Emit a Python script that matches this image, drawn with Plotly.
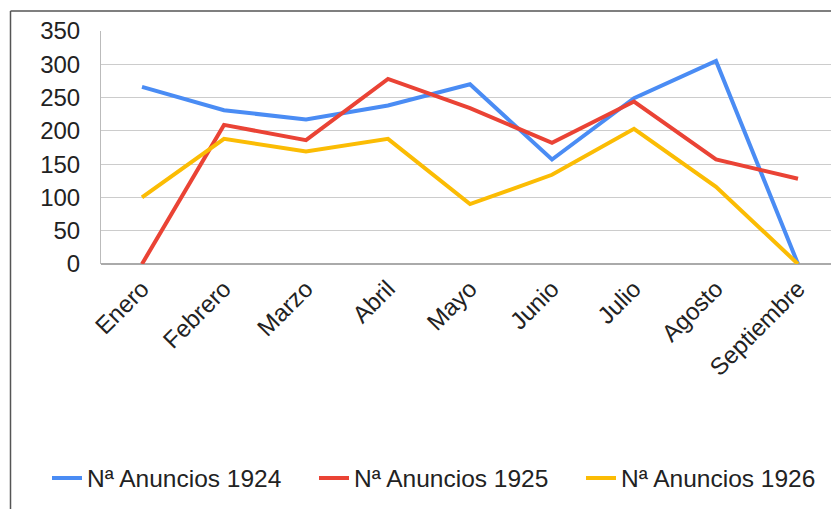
import plotly.graph_objects as go

months = ["Enero", "Febrero", "Marzo", "Abril", "Mayo", "Junio", "Julio", "Agosto", "Septiembre"]
anuncios_1924 = [266, 231, 217, 238, 270, 157, 249, 305, 0]
anuncios_1925 = [0, 209, 186, 278, 234, 182, 244, 157, 128]
anuncios_1926 = [100, 188, 169, 188, 90, 134, 203, 116, 0]
series_names = ["Nª Anuncios 1924", "Nª Anuncios 1925", "Nª Anuncios 1926"]
colors = ["#4A8CF4", "#EA4335", "#FBBC04"]
y_ticks = [0, 50, 100, 150, 200, 250, 300, 350]

# page body has an 8px margin; work in window pixel coordinates
OFF = 8
W, H = 839 - OFF, 509 - OFF
L = 101 - OFF
T = 31 - OFF
R = 0
B = H - (264 - OFF)
pw, ph = W - L - R, H - T - B

def px_x(x):
    return (x - OFF - L) / pw

def px_y(y):
    return (H - B - (y - OFF)) / ph

legend_ids = ["legend", "legend2", "legend3"]
legend_x = [47, 314, 581]

fig = go.Figure()
for name, vals, c, lid in zip(series_names, [anuncios_1924, anuncios_1925, anuncios_1926], colors, legend_ids):
    fig.add_trace(go.Scatter(x=months, y=vals, name=name, mode="lines",
                             line=dict(color=c, width=4), cliponaxis=False, legend=lid))

# outer chart frame (left and top edges visible)
fig.add_shape(type="line", xref="paper", yref="paper",
              x0=px_x(10.5), x1=px_x(845), y0=px_y(11), y1=px_y(11),
              line=dict(color="#555555", width=1.5))
fig.add_shape(type="line", xref="paper", yref="paper",
              x0=px_x(10.5), x1=px_x(10.5), y0=px_y(11), y1=px_y(515),
              line=dict(color="#555555", width=1.5))

legend_style = dict(orientation="h", xanchor="left", y=px_y(478), yanchor="middle",
                    font=dict(size=24.5), bgcolor="rgba(0,0,0,0)")

fig.update_layout(
    width=W, height=H,
    margin=dict(l=L, r=R, t=T, b=B),
    paper_bgcolor="white", plot_bgcolor="white",
    font=dict(family="Liberation Sans, Arial, sans-serif", size=24, color="#222222"),
    xaxis=dict(type="category", tickangle=-45, showgrid=False, showline=False,
               ticks="", tickfont=dict(size=24), range=[-0.5, 8.5], zeroline=False,
               ticklabelstandoff=5),
    yaxis=dict(range=[0, 350], tickvals=y_ticks, showgrid=True, gridcolor="#CCCCCC",
               gridwidth=1, zeroline=True, zerolinecolor="#AAAAAA", zerolinewidth=1.5,
               showline=True, linecolor="#BBBBBB", linewidth=1, ticks="",
               ticklabelstandoff=15, tickfont=dict(size=24)),
    legend=dict(x=px_x(legend_x[0]), **legend_style),
    legend2=dict(x=px_x(legend_x[1]), **legend_style),
    legend3=dict(x=px_x(legend_x[2]), **legend_style),
    showlegend=True,
)

fig.write_html("out.html")
